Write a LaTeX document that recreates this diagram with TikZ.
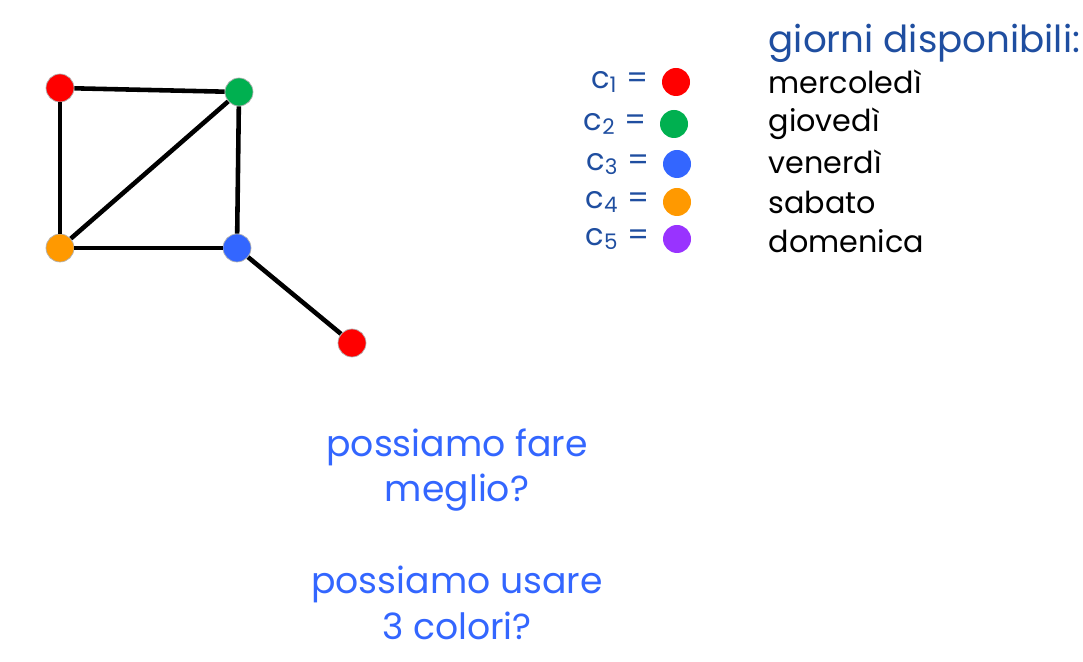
\documentclass[tikz,border=0pt]{standalone}
\usepackage{fontspec}
\setmainfont{Poppins}
\usepackage{tikz}
\usetikzlibrary{positioning}
\definecolor{colred}{RGB}{255, 0, 0}
\definecolor{colgreen}{RGB}{0, 176, 80}
\definecolor{colblue}{RGB}{51, 102, 255}
\definecolor{colorange}{RGB}{255, 153, 0}
\definecolor{colpurple}{RGB}{153, 51, 255}
\definecolor{titleblue}{RGB}{31, 78, 160}
\tikzset{
  vertex/.style={
    circle, inner sep=0pt, minimum size=0.28cm, draw=black!30, line width=0.2pt
  },
  legdot/.style={
    circle, inner sep=0pt, minimum size=0.28cm
  },
  edge/.style={line width=1.3pt, color=black},
  ctext/.style={font=\fontsize{8.7}{10}\selectfont, text=titleblue, inner sep=0pt},
  daytext/.style={font=\fontsize{8.6}{10}\selectfont, text=black, inner sep=0pt, anchor=west},
  question/.style={font=\fontsize{10.3}{13}\selectfont, text=colblue, align=center, inner sep=0pt}
}

\begin{document}
\begin{tikzpicture}

  \useasboundingbox (0,0) rectangle (10.83,6.61);

  % ── Graph ──────────────────────────────────────────────────────
  \node[vertex, fill=colred]    (r1) at (0.60,5.73) {};
  \node[vertex, fill=colgreen]  (g)  at (2.39,5.69) {};
  \node[vertex, fill=colorange] (o)  at (0.60,4.13) {};
  \node[vertex, fill=colblue]   (b)  at (2.37,4.13) {};
  \node[vertex, fill=colred]    (r2) at (3.52,3.18) {};

  \draw[edge] (r1) -- (g);
  \draw[edge] (r1) -- (o);
  \draw[edge] (g)  -- (o);
  \draw[edge] (g)  -- (b);
  \draw[edge] (o)  -- (b);
  \draw[edge] (b)  -- (r2);

  % ── Legend: colours and days ───────────────────────────────────
  \node[font=\fontsize{10.6}{12}\selectfont, text=titleblue, inner sep=0pt, anchor=west]
    (title) at (7.68,6.18) {giorni disponibili:};

  \node[legdot, fill=colred]    (d1) at (6.76,5.79) {};
  \node[legdot, fill=colgreen]  (d2) at (6.74,5.37) {};
  \node[legdot, fill=colblue]   (d3) at (6.77,4.97) {};
  \node[legdot, fill=colorange] (d4) at (6.77,4.59) {};
  \node[legdot, fill=colpurple] (d5) at (6.77,4.22) {};

  \node[ctext, left=0.12cm of d1] (c1) {c\textsubscript{1} =};
  \node[ctext, left=0.12cm of d2] (c2) {c\textsubscript{2} =};
  \node[ctext, left=0.12cm of d3] (c3) {c\textsubscript{3} =};
  \node[ctext, left=0.12cm of d4] (c4) {c\textsubscript{4} =};
  \node[ctext, left=0.12cm of d5] (c5) {c\textsubscript{5} =};

  \node[daytext] (day1) at (7.68,5.79) {mercoledì};
  \node[daytext] (day2) at (7.68,5.37) {giovedì};
  \node[daytext] (day3) at (7.68,4.99) {venerdì};
  \node[daytext] (day4) at (7.68,4.59) {sabato};
  \node[daytext] (day5) at (7.68,4.20) {domenica};

  % ── Questions ──────────────────────────────────────────────────
  \node[question] (q1) at (4.57,1.91) {possiamo fare\\meglio?};
  \node[question] (q2) at (4.57,0.58) {possiamo usare\\3 colori?};

\end{tikzpicture}
\end{document}
